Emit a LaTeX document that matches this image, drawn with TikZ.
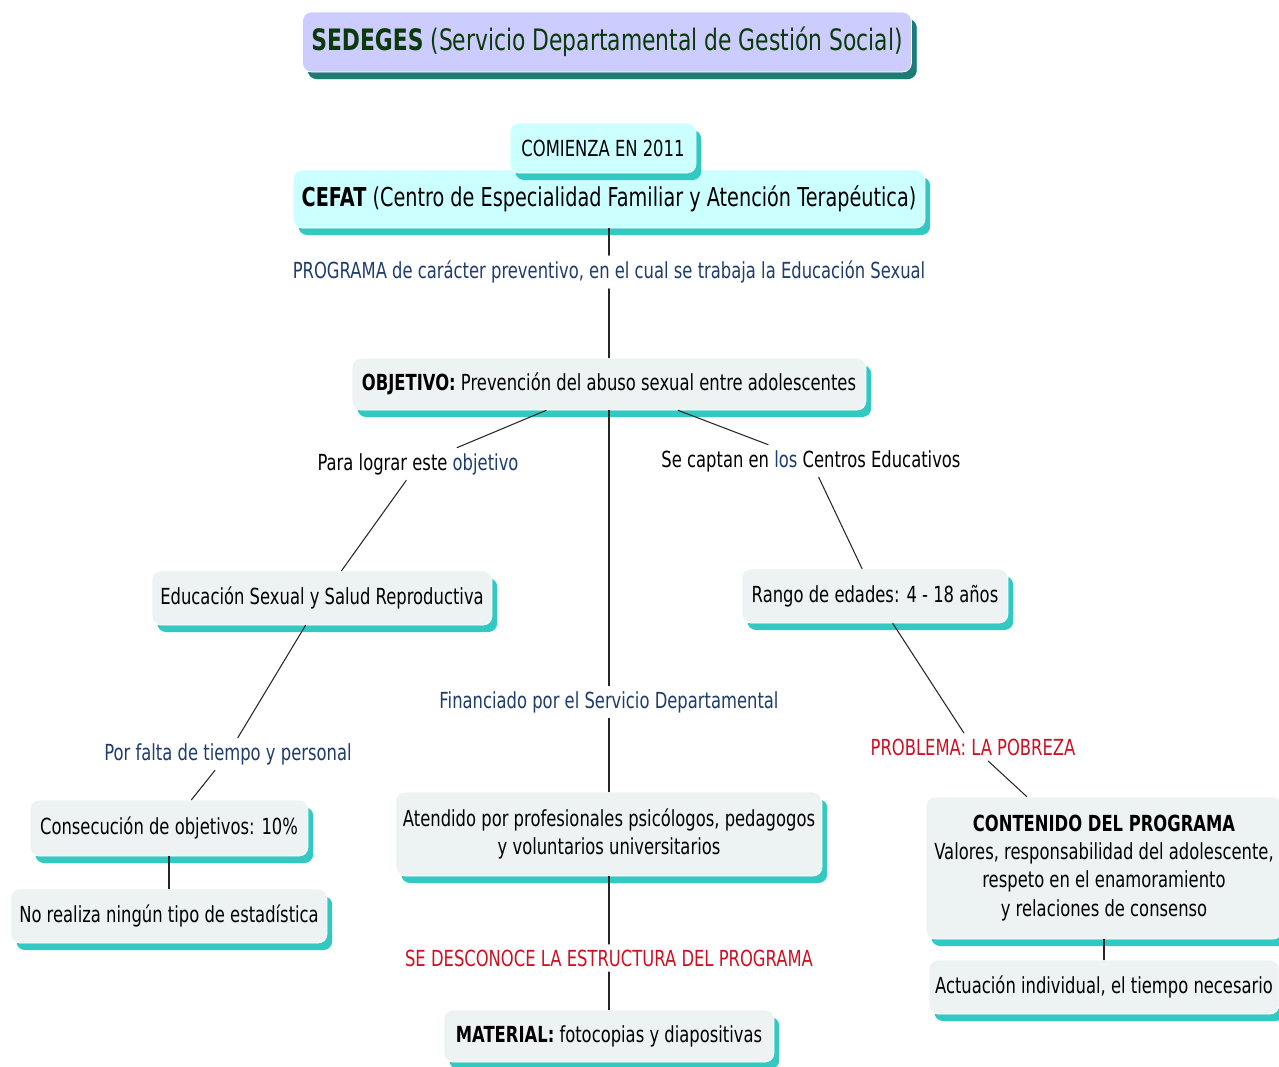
\documentclass[tikz,border=0pt]{standalone}
\usepackage{fontspec}
\setmainfont{DejaVu Sans}[FakeStretch=0.74]
\usetikzlibrary{shadows}
\definecolor{titlefill}{HTML}{CCCCFF}
\definecolor{titleshade}{HTML}{1E7B74}
\definecolor{titletext}{HTML}{0A3A0A}
\definecolor{cyanfill}{HTML}{CCFFFF}
\definecolor{boxfill}{HTML}{EDF3F3}
\definecolor{boxshade}{HTML}{33C9C3}
\definecolor{linknavy}{HTML}{1F3D6B}
\definecolor{linkred}{HTML}{CC1122}

\begin{document}
\begin{tikzpicture}[x=0.02cm,y=-0.02cm,line cap=round,line join=round,
  concept/.style={rectangle,rounded corners=5pt,fill=boxfill,draw=white,line width=0.4pt,
    inner sep=2pt,align=center,font=\fontsize{12.6}{16}\selectfont,
    general shadow={fill=boxshade,shadow xshift=3pt,shadow yshift=-4pt}},
  cyanbox/.style={concept,fill=cyanfill},
  linklabel/.style={fill=white,inner sep=3pt,font=\fontsize{12.6}{16}\selectfont,text=linknavy},
  connector/.style={draw=black!85,line width=0.6pt}]
  \useasboundingbox (0,0) rectangle (1279,1066);
  \node[concept,fill=titlefill,text=titletext,minimum width=12.18cm,minimum height=1.2cm,
    font=\fontsize{16.8}{20}\selectfont,
    general shadow={fill=titleshade,shadow xshift=3pt,shadow yshift=-4pt}]
    (sedeges) at (607,42) {\textbf{SEDEGES} (Servicio Departamental de Gestión Social)};
  \node[cyanbox,minimum width=12.64cm,minimum height=1.16cm,font=\fontsize{14.8}{18}\selectfont]
    (cefat) at (609,199) {\textbf{CEFAT} (Centro de Especialidad Familiar y Atención Terapéutica)};
  \node[cyanbox,minimum width=3.72cm,minimum height=1.0cm] (comienza) at (603,148) {COMIENZA EN 2011};
  \node[linklabel] (programa) at (609,272) {PROGRAMA de carácter preventivo, en el cual se trabaja la Educación Sexual};
  \node[concept,minimum width=10.28cm,minimum height=1.04cm] (objetivo) at (609,384)
    {\textbf{OBJETIVO:} Prevención del abuso sexual entre adolescentes};
  \node[linklabel,text=black] (lograr) at (418,464) {Para lograr este \textcolor{linknavy}{objetivo}};
  \node[linklabel,text=black] (captan) at (811,461) {Se captan en \textcolor{linknavy}{los} Centros Educativos};
  \node[concept,minimum width=6.8cm,minimum height=1.08cm] (educacion) at (322,598)
    {Educación Sexual y Salud Reproductiva};
  \node[concept,minimum width=5.32cm,minimum height=1.08cm] (rango) at (875,596)
    {Rango de edades: 4 - 18 años};
  \node[linklabel] (financiado) at (609,702) {Financiado por el Servicio Departamental};
  \node[linklabel] (falta) at (228,754) {Por falta de tiempo y personal};
  \node[linklabel,text=linkred] (pobreza) at (973,747) {PROBLEMA: LA POBREZA};
  \node[concept,minimum width=5.56cm,minimum height=1.12cm] (consecucion) at (169,828)
    {Consecución de objetivos: 10\%};
  \node[concept,minimum width=8.52cm,minimum height=1.68cm] (atendido) at (609,834)
    {Atendido por profesionales psicólogos, pedagogos\\y voluntarios universitarios};
  \node[concept,minimum width=7.12cm,minimum height=2.84cm] (contenido) at (1104,868)
    {\textbf{CONTENIDO DEL PROGRAMA}\\Valores, responsabilidad del adolescente,\\respeto en el enamoramiento\\y relaciones de consenso};
  \node[concept,minimum width=6.32cm,minimum height=1.08cm] (estadistica) at (169,916)
    {No realiza ningún tipo de estadística};
  \node[linklabel,text=linkred] (desconoce) at (609,958) {SE DESCONOCE LA ESTRUCTURA DEL PROGRAMA};
  \node[concept,minimum width=7.0cm,minimum height=1.08cm] (actuacion) at (1104,987)
    {Actuación individual, el tiempo necesario};
  \node[concept,minimum width=6.6cm,minimum height=1.04cm] (material) at (609,1036)
    {\textbf{MATERIAL:} fotocopias y diapositivas};
  \draw[connector] (cefat) -- (programa) -- (objetivo);
  \draw[connector] (objetivo) -- (lograr) -- (educacion);
  \draw[connector] (objetivo) -- (captan) -- (rango);
  \draw[connector] (objetivo) -- (financiado) -- (atendido);
  \draw[connector] (educacion) -- (falta) -- (consecucion);
  \draw[connector] (rango) -- (pobreza) -- (contenido);
  \draw[connector] (consecucion) -- (estadistica);
  \draw[connector] (atendido) -- (desconoce) -- (material);
  \draw[connector] (contenido) -- (actuacion);
\end{tikzpicture}
\end{document}
